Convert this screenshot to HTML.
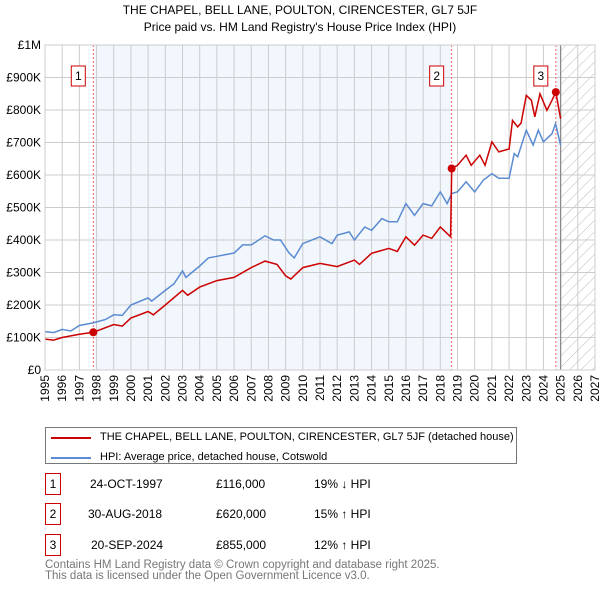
<!DOCTYPE html>
<html><head><meta charset="utf-8"><style>
body{margin:0;background:#fff;font-family:"Liberation Sans","DejaVu Sans",sans-serif;}
#wrap{position:relative;width:600px;height:590px;overflow:hidden;}
.t{position:absolute;font-size:12px;color:#000;white-space:nowrap;}
.box{position:absolute;border:1px solid #c00;width:14px;height:20px;text-align:center;line-height:20px;font-size:12px;}
</style></head><body><div id="wrap">
<div class="t" style="left:0;width:600px;text-align:center;top:3px;">THE CHAPEL, BELL LANE, POULTON, CIRENCESTER, GL7 5JF</div>
<div class="t" style="left:0;width:600px;text-align:center;top:20px;">Price paid vs. HM Land Registry's House Price Index (HPI)</div>
<svg id="chart" width="600" height="420" style="position:absolute;left:0;top:0" font-family="Liberation Sans, DejaVu Sans, sans-serif" font-size="12"></svg>
<div style="position:absolute;left:45px;top:427px;width:470px;height:35px;border:1px solid #777;"></div>
<div style="position:absolute;left:51px;top:437px;width:40px;height:2px;background:#c00"></div>
<div class="t" style="left:100px;top:431px;font-size:11px">THE CHAPEL, BELL LANE, POULTON, CIRENCESTER, GL7 5JF (detached house)</div>
<div style="position:absolute;left:51px;top:457px;width:40px;height:2px;background:#5b8bd0"></div>
<div class="t" style="left:100px;top:451px;font-size:11px">HPI: Average price, detached house, Cotswold</div>

<div class="box" style="left:45px;top:473px;">1</div>
<div class="t" style="left:90px;top:477px;">24-OCT-1997</div>
<div class="t" style="left:216px;top:477px;">£116,000</div>
<div class="t" style="left:314px;top:477px;">19% ↓ HPI</div>
<div class="box" style="left:45px;top:503px;">2</div>
<div class="t" style="left:88px;top:507px;">30-AUG-2018</div>
<div class="t" style="left:216px;top:507px;">£620,000</div>
<div class="t" style="left:314px;top:507px;">15% ↑ HPI</div>
<div class="box" style="left:45px;top:534px;">3</div>
<div class="t" style="left:91px;top:538px;">20-SEP-2024</div>
<div class="t" style="left:216px;top:538px;">£855,000</div>
<div class="t" style="left:314px;top:538px;">12% ↑ HPI</div>
<div class="t" style="left:45px;top:560px;color:#777;line-height:11px;font-size:11.5px">Contains HM Land Registry data © Crown copyright and database right 2025.<br>This data is licensed under the Open Government Licence v3.0.</div>
</div>
<script>
const hpiYears=[1995,1995.5,1996,1996.5,1997,1997.8,1998.5,1999,1999.5,2000,2001,2001.2,2002,2002.5,2003,2003.2,2004,2004.5,2005,2006,2006.5,2007,2007.8,2008.3,2008.7,2009.2,2009.5,2010,2011,2011.7,2012,2012.7,2013,2013.6,2014,2014.6,2015,2015.5,2016,2016.5,2017,2017.5,2018,2018.4,2018.66,2019,2019.5,2020,2020.5,2021,2021.4,2022,2022.3,2022.5,2023,2023.4,2023.7,2024,2024.5,2024.7,2025];
const hpiValues=[118,115,125,120,137,145,155,170,168,200,222,212,245,265,305,285,320,345,350,360,385,385,413,400,400,360,345,389,410,389,415,425,400,440,430,466,456,456,512,476,512,505,548,512,543,548,579,548,584,604,590,590,666,656,738,692,738,702,727,758,692];
const priceYears=[1995,1995.5,1996,1997,1997.81,1999,1999.5,2000,2001,2001.3,2002,2003,2003.3,2004,2005,2006,2007,2007.8,2008.5,2009,2009.3,2010,2011,2012,2013,2013.3,2014,2015,2015.5,2016,2016.5,2017,2017.5,2018,2018.6,2018.66,2019,2019.5,2019.8,2020.3,2020.6,2021,2021.4,2022,2022.2,2022.5,2022.7,2023,2023.3,2023.5,2023.8,2024.2,2024.5,2024.72,2025];
const priceValues=[95,92,100,110,116,140,135,160,180,170,200,245,230,255,275,285,315,335,325,290,280,315,328,318,338,325,359,374,365,410,384,415,405,440,410,620,630,661,630,661,630,702,671,680,768,748,760,845,830,779,850,799,830,855,773];
const saleYears=[1997.81,2018.66,2024.72];
const salePrices=[116,620,855];
const saleLabels=["1","2","3"];
const yTicks=[0,100,200,300,400,500,600,700,800,900,1000];
const yTickLabels=["£0","£100K","£200K","£300K","£400K","£500K","£600K","£700K","£800K","£900K","£1M"];
const xTicks=[1995,1996,1997,1998,1999,2000,2001,2002,2003,2004,2005,2006,2007,2008,2009,2010,2011,2012,2013,2014,2015,2016,2017,2018,2019,2020,2021,2022,2023,2024,2025,2026,2027];

const L=45,R=595,T=45,B=370;
const X=y=>L+(y-1995)*(R-L)/32;
const Y=v=>B-v*(B-T)/1000;
const svg=document.getElementById('chart');
const NS='http://www.w3.org/2000/svg';
function mk(tag,attrs,parent){const e=document.createElementNS(NS,tag);for(const k in attrs)e.setAttribute(k,attrs[k]);(parent||svg).appendChild(e);return e;}
const defs=mk('defs',{});
const pat=mk('pattern',{id:'hatch',width:8,height:8,patternUnits:'userSpaceOnUse',patternTransform:'rotate(45)'},defs);
mk('line',{x1:0,y1:0,x2:0,y2:8,stroke:'#bbb','stroke-width':1},pat);
let e;
e=mk('rect',{x:X(saleYears[0]),y:T,width:X(saleYears[1])-X(saleYears[0]),height:B-T,fill:'#f2f6fd'});


e=mk('rect',{x:X(saleYears[2]),y:T,width:X(2025)-X(saleYears[2]),height:B-T,fill:'#f2f6fd'});


e=mk('rect',{x:X(2025),y:T,width:X(2027)-X(2025),height:B-T,fill:'url(#hatch)'});


xTicks.forEach(yr=>{
 e=mk('line',{x1:X(yr),x2:X(yr),y1:T,y2:B,stroke:'#ccc'});
 
 
 const t=mk('text',{x:0,y:0,transform:`translate(${X(yr)+4},${B+5}) rotate(-90)`,'text-anchor':'end'});
 t.textContent=yr;
 
 
});
yTicks.forEach((v,i)=>{
 e=mk('line',{x1:L,x2:R,y1:Y(v),y2:Y(v),stroke:'#ccc'});
 
 
 const t=mk('text',{x:L-4,y:Y(v)+4,'text-anchor':'end'});
 t.textContent=yTickLabels[i];
 
 
});
e=mk('line',{x1:X(2025),x2:X(2025),y1:T,y2:B,stroke:'#888','stroke-width':1.2});


saleYears.forEach((yr,i)=>{
 e=mk('line',{x1:X(yr),x2:X(yr),y1:T,y2:B,stroke:'#f66','stroke-dasharray':'2,2'});
 
 
});
const pts=(xs,vs)=>xs.map((x,i)=>X(x).toFixed(1)+','+Y(vs[i]).toFixed(1)).join(' ');
e=mk('polyline',{points:pts(hpiYears,hpiValues),fill:'none',stroke:'#5b8bd0','stroke-width':1.5});


e=mk('polyline',{points:pts(priceYears,priceValues),fill:'none',stroke:'#c00','stroke-width':1.5});


saleYears.forEach((yr,i)=>{
 e=mk('circle',{cx:X(yr),cy:Y(salePrices[i]),r:4,fill:'#c00'});
 
 
 const bx=X(yr)-15;
 e=mk('rect',{x:bx-7,y:66,width:14,height:20,fill:'#fff',stroke:'#c00'});
 
 
 const t=mk('text',{x:bx,y:80,'text-anchor':'middle'});
 t.textContent=saleLabels[i];
 
 
});
e=mk('rect',{x:L,y:T,width:R-L,height:B-T,fill:'none',stroke:'#ccc'});


</script>
</body></html>
